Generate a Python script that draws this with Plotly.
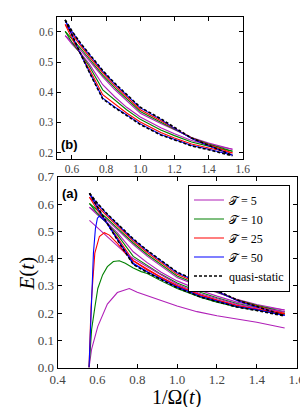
import plotly.graph_objects as go

# ---------------- data ----------------
X = [0.56, 0.60, 0.65, 0.70, 0.78, 0.85, 0.92, 1.00, 1.12, 1.20, 1.30, 1.40, 1.54]

qs_up = [0.640, 0.603, 0.563, 0.527, 0.472, 0.430, 0.392, 0.350, 0.312, 0.283, 0.248, 0.224, 0.190]
qs_lo = [0.640, 0.588, 0.528, 0.468, 0.378, 0.349, 0.322, 0.293, 0.258, 0.241, 0.222, 0.209, 0.189]

up_50 = [0.638, 0.601, 0.561, 0.525, 0.470, 0.428, 0.390, 0.348, 0.310, 0.280, 0.246, 0.222, 0.192]
up_25 = [0.625, 0.592, 0.555, 0.519, 0.464, 0.422, 0.384, 0.342, 0.305, 0.280, 0.248, 0.226, 0.198]
up_10 = [0.602, 0.578, 0.546, 0.512, 0.457, 0.415, 0.377, 0.336, 0.300, 0.278, 0.249, 0.228, 0.204]
up_5 = [0.588, 0.568, 0.540, 0.506, 0.451, 0.409, 0.371, 0.330, 0.296, 0.276, 0.250, 0.231, 0.211]

lo_5 = [0.588, 0.560, 0.530, 0.495, 0.425, 0.385, 0.350, 0.318, 0.282, 0.262, 0.240, 0.226, 0.211]
lo_10 = [0.602, 0.565, 0.528, 0.488, 0.408, 0.374, 0.342, 0.310, 0.275, 0.256, 0.235, 0.221, 0.204]
lo_25 = [0.625, 0.578, 0.527, 0.478, 0.392, 0.360, 0.331, 0.301, 0.266, 0.248, 0.228, 0.215, 0.198]
lo_50 = [0.638, 0.586, 0.527, 0.470, 0.380, 0.351, 0.324, 0.295, 0.260, 0.243, 0.223, 0.211, 0.191]

# curves of panel (a) that start from E = 0
z50_x = [0.558, 0.565, 0.572, 0.580, 0.590, 0.600, 0.610, 0.65, 0.70, 0.78, 0.85, 0.92, 1.00, 1.12, 1.20, 1.30, 1.40, 1.54]
z50_y = [0.0, 0.15, 0.30, 0.42, 0.51, 0.548, 0.556, 0.530, 0.472, 0.383, 0.352, 0.325, 0.296, 0.261, 0.244, 0.224, 0.212, 0.192]

z25_x = [0.558, 0.563, 0.568, 0.575, 0.587, 0.610, 0.635, 0.66, 0.70, 0.74, 0.78, 0.85, 0.92, 1.00, 1.12, 1.20, 1.30, 1.40, 1.54]
z25_y = [0.0, 0.12, 0.22, 0.30, 0.42, 0.481, 0.495, 0.486, 0.456, 0.420, 0.392, 0.358, 0.329, 0.299, 0.264, 0.247, 0.227, 0.214, 0.197]

z10_x = [0.558, 0.565, 0.571, 0.587, 0.602, 0.626, 0.65, 0.68, 0.71, 0.74, 0.78, 0.82, 0.85, 0.92, 1.00, 1.12, 1.20, 1.30, 1.40, 1.54]
z10_y = [0.0, 0.08, 0.14, 0.22, 0.29, 0.34, 0.370, 0.389, 0.392, 0.383, 0.365, 0.352, 0.345, 0.318, 0.290, 0.257, 0.240, 0.222, 0.210, 0.195]

z5_x = [0.558, 0.571, 0.602, 0.65, 0.70, 0.76, 0.80, 0.90, 1.00, 1.10, 1.20, 1.30, 1.40, 1.54]
z5_y = [0.0, 0.068, 0.151, 0.233, 0.275, 0.290, 0.276, 0.250, 0.226, 0.205, 0.190, 0.178, 0.166, 0.145]

p5_x = [0.56, 0.62, 0.68, 0.74, 0.78, 0.85, 0.92, 1.00, 1.12, 1.20, 1.30, 1.40, 1.54]
p5_y = [0.540, 0.500, 0.460, 0.420, 0.400, 0.370, 0.338, 0.306, 0.270, 0.252, 0.232, 0.219, 0.205]

x_ticks_a = [0.4, 0.6, 0.8, 1.0, 1.2, 1.4, 1.6]
y_ticks_a = [0.0, 0.1, 0.2, 0.3, 0.4, 0.5, 0.6, 0.7]
x_ticks_b = [0.6, 0.8, 1.0, 1.2, 1.4, 1.6]
y_ticks_b = [0.2, 0.3, 0.4, 0.5, 0.6]

T_labels = {5: "𝒯 = 5", 10: "𝒯 = 10", 25: "𝒯 = 25", 50: "𝒯 = 50"}
# ----------------------------------------------------------------

PURPLE = "#b020b8"
GREEN = "#008000"
RED = "#ff0000"
BLUE = "#0000ff"
col = {5: PURPLE, 10: GREEN, 25: RED, 50: BLUE}

fig = go.Figure()

bundle = [(5, up_5), (5, lo_5), (10, up_10), (10, lo_10),
          (25, up_25), (25, lo_25), (50, up_50), (50, lo_50)]

def add(xs, ys, T, panel, legend=False):
    xa, ya = ("x", "y") if panel == "a" else ("x2", "y2")
    fig.add_trace(go.Scatter(
        x=xs, y=ys, mode="lines", line=dict(color=col[T], width=1.1),
        xaxis=xa, yaxis=ya, name=T_labels[T], legendgroup=str(T),
        showlegend=legend, legendrank={5: 1, 10: 2, 25: 3, 50: 4}[T]))

# panel (b)
for T, ys in bundle:
    add(X, ys, T, "b")
# panel (a)
shown = set()
for T, ys in bundle:
    add(X, ys, T, "a", legend=(T not in shown))
    shown.add(T)
add(p5_x, p5_y, 5, "a")
add(z5_x, z5_y, 5, "a")
add(z10_x, z10_y, 10, "a")
add(z25_x, z25_y, 25, "a")
add(z50_x, z50_y, 50, "a")

for panel in ("a", "b"):
    xa, ya = ("x", "y") if panel == "a" else ("x2", "y2")
    for i, ys in enumerate((qs_up, qs_lo)):
        fig.add_trace(go.Scatter(
            x=X, y=ys, mode="lines",
            line=dict(color="black", width=1.6, dash="3px,2px"),
            xaxis=xa, yaxis=ya, name="quasi-static", legendgroup="qs",
            showlegend=(panel == "a" and i == 0), legendrank=5))

SERIF = "Liberation Serif, DejaVu Serif, serif"
TICKC = "#444"
axis_common = dict(showline=True, linecolor="black", linewidth=1, mirror="ticks",
                   ticks="inside", ticklen=4, tickcolor="black", showgrid=False,
                   zeroline=False, tickformat=".1f")

fig.update_layout(
    width=308, height=407, margin=dict(l=0, r=0, t=0, b=0),
    plot_bgcolor="white", paper_bgcolor="white",
    font=dict(family=SERIF, color=TICKC),
    xaxis=dict(domain=[44 / 308, 297 / 308], range=[0.4, 1.6], tickvals=x_ticks_a,
               anchor="y", tickfont=dict(family=SERIF, size=13, color=TICKC), **axis_common),
    yaxis=dict(domain=[1 - 366 / 407, 1 - 168 / 407], range=[0, 0.7], tickvals=y_ticks_a,
               anchor="x", tickfont=dict(family=SERIF, size=13, color=TICKC), **axis_common),
    xaxis2=dict(domain=[43 / 308, 240 / 308], range=[0.51, 1.6], tickvals=x_ticks_b,
                anchor="y2", tickfont=dict(family=SERIF, size=11.5, color=TICKC), **axis_common),
    yaxis2=dict(domain=[1 - 149 / 407, 1 - 2 / 407], range=[0.18, 0.65], tickvals=y_ticks_b,
                anchor="x2", tickfont=dict(family=SERIF, size=11.5, color=TICKC), **axis_common),
    legend=dict(x=290 / 308, y=1 - 176 / 407, xanchor="right", yanchor="top",
                bgcolor="white", bordercolor="black", borderwidth=1,
                font=dict(family=SERIF, size=12, color="black"),
                itemwidth=30, tracegroupgap=0),
    showlegend=True,
)

fig.add_annotation(text="<b>(a)</b>", x=47 / 308, y=1 - 185 / 407, xref="paper", yref="paper",
                   xanchor="left", yanchor="middle", showarrow=False,
                   font=dict(family="Liberation Sans", size=13, color="black"))
fig.add_annotation(text="<b>(b)</b>", x=46 / 308, y=1 - 134 / 407, xref="paper", yref="paper",
                   xanchor="left", yanchor="middle", showarrow=False,
                   font=dict(family="Liberation Sans", size=13, color="black"))
fig.add_annotation(text="1/Ω(<i>t</i>)", x=170 / 308, y=1 - 397 / 407, xref="paper", yref="paper",
                   xanchor="center", yanchor="middle", showarrow=False,
                   font=dict(family=SERIF, size=20, color="black"))
fig.add_annotation(text="<i>E</i>(<i>t</i>)", x=12 / 308, y=1 - 268 / 407, xref="paper", yref="paper",
                   xanchor="center", yanchor="middle", showarrow=False, textangle=-90,
                   font=dict(family=SERIF, size=21, color="black"))

fig.write_html("out.html")
